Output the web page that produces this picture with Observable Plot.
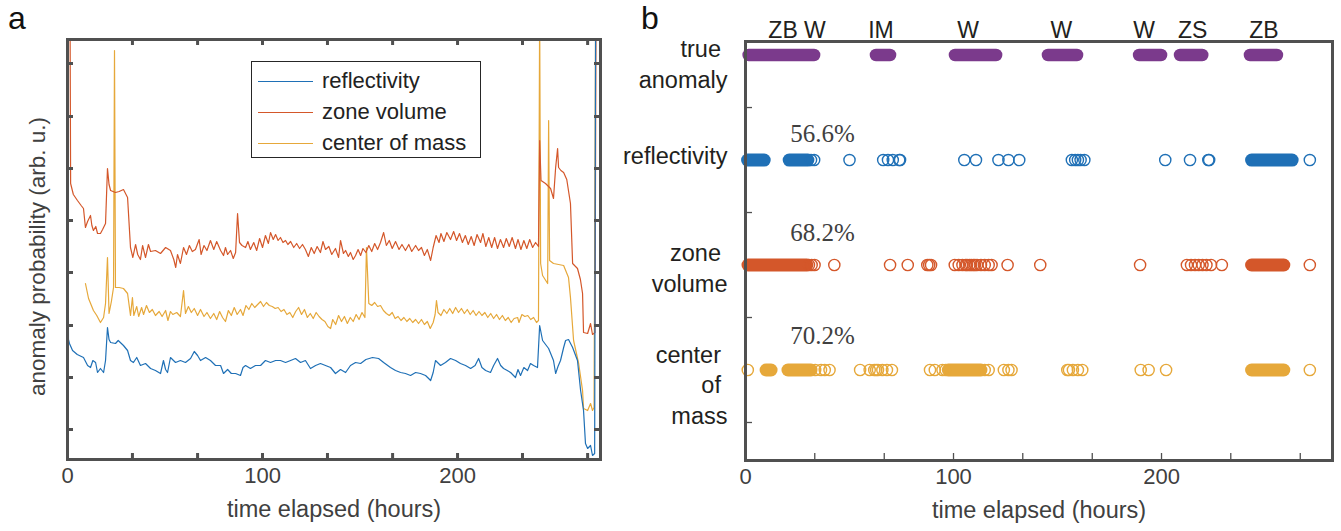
<!DOCTYPE html>
<html><head><meta charset="utf-8">
<script src="https://cdn.jsdelivr.net/npm/d3@7"></script>
<script src="https://cdn.jsdelivr.net/npm/@observablehq/plot@0.6"></script>
<style>
html,body{margin:0;padding:0;background:#fff;}
body{width:1341px;height:531px;overflow:hidden;font-family:"Liberation Sans",Arial,sans-serif;}
#wrap{position:relative;width:1341px;height:531px;}
.panel{position:absolute;top:0;}
.plabel{position:absolute;font-size:32px;color:#111;line-height:1;}
#legend{position:absolute;left:251px;top:61px;width:230px;height:97px;border:1px solid #262626;background:#fff;box-sizing:border-box;}
.lrow{position:absolute;left:0;height:0;}
.lline{position:absolute;left:6px;width:55px;height:0;border-top:1.5px solid;}
.ltext{position:absolute;left:70px;top:-13px;font-size:22px;color:#222;white-space:nowrap;line-height:26px;}
</style></head><body><div id="wrap">
<div class="plabel" style="left:8px;top:2px;">a</div>
<div class="plabel" style="left:641px;top:2px;">b</div>
<div class="panel" id="pa" style="left:0px;"></div>
<div class="panel" id="pb" style="left:605px;"></div>
<div id="legend"></div>
</div>
<script>
// ---------- DATA ----------
const seriesNames = ["reflectivity", "zone volume", "center of mass"];
const seriesColors = ["#1f70b6", "#d4572a", "#e6a83a"];
const trueColor = "#7b3a8c";

// panel a: anomaly probability (arb. u.) vs time elapsed (hours)
const reflectivityProb = [
[0,4.5],[0.5,1.2],[1.0,1.16],[2.6,1.09],[5,1.05],[8.2,1.02],[10.3,0.94],[11.8,0.92],[13,0.99],[14.4,0.97],[15.4,0.87],[16.9,0.91],[18.5,0.87],[19.5,0.99],[20.5,1.32],[21.3,1.20],[22.1,1.17],[24.6,1.16],[26,1.19],[28.7,1.14],[30.8,1.09],[32.3,0.99],[33.8,0.97],[35.5,1.02],[37.4,0.94],[40,0.96],[42.6,0.91],[45.1,0.89],[47.7,0.86],[49.2,0.99],[50.3,0.90],[51.3,0.87],[52.8,1.02],[55.4,0.97],[57.9,0.99],[60.5,0.97],[63.1,1.01],[65,1.08],[66.7,1.04],[68.2,0.99],[70.8,1.02],[73.3,0.99],[75.9,0.94],[78.5,0.94],[80,0.86],[82.1,0.90],[84,0.86],[86.2,0.86],[88.7,0.84],[90,0.92],[91.3,0.94],[93.8,0.91],[96.4,0.94],[99,0.94],[101.5,0.99],[104.1,0.97],[106.7,0.99],[109.2,0.99],[111.8,0.97],[114.4,0.99],[116.9,1.01],[119.5,0.97],[122,0.99],[124.6,0.91],[127.2,0.94],[129.7,0.96],[132.3,0.94],[134.9,0.92],[137.4,0.86],[140,0.90],[142.6,0.87],[145.1,0.94],[147.7,0.97],[150.3,0.96],[153,1.00],[156.4,1.02],[159.5,1.01],[162.1,0.97],[165.6,0.92],[168.2,0.89],[170.8,0.87],[173.3,0.86],[175.9,0.84],[178.5,0.87],[181,0.86],[183.6,0.84],[186.2,0.79],[187.5,0.87],[188.7,0.99],[191.3,0.94],[193.8,0.97],[196.4,1.01],[199,0.99],[201.5,0.96],[204.1,0.94],[206.7,0.91],[209,0.94],[210.8,1.01],[212.5,0.92],[214.4,0.89],[216.9,0.87],[218.5,0.94],[220.5,1.01],[222.1,0.94],[223.6,0.91],[225.5,0.89],[227.2,0.87],[229.7,0.82],[231,0.90],[232.3,0.84],[234,0.92],[235.9,0.89],[237.4,0.96],[239,0.94],[241,0.92],[242.1,1.34],[243.6,1.19],[246.7,1.11],[249.2,0.99],[250.3,0.86],[251.5,0.93],[252.8,0.99],[254.4,1.12],[255.4,1.19],[256.9,1.20],[259,1.12],[261.5,0.99],[263.1,0.69],[264.6,0.49],[265.6,0.16],[266.7,0.11],[268.2,0.14],[269.2,0.04],[270.3,0.06],[270.8,4.5]
];
const zoneVolumeProb = [
[0,4.5],[1.3,4.5],[1.6,2.76],[3,2.65],[5.1,2.59],[7,2.54],[8.2,2.51],[9.2,2.32],[10.3,2.38],[11.8,2.44],[12.5,2.34],[13.3,2.29],[14.5,2.33],[15.4,2.26],[16.9,2.26],[18,2.30],[19.5,2.36],[20.5,2.91],[21.3,2.75],[22.1,2.69],[24.6,2.67],[26.5,2.68],[28.7,2.70],[30.8,2.62],[32.3,2.12],[33.5,2.02],[34.9,2.15],[36,2.05],[37.4,2.00],[38.5,2.14],[40,2.02],[41.5,2.15],[42.6,2.08],[45.1,2.09],[47.7,2.06],[50.3,2.12],[52.8,2.09],[54.5,2.00],[55.5,1.92],[56.4,2.05],[57.9,1.96],[59.5,2.12],[61,2.05],[62.5,2.14],[64,2.08],[65.6,2.10],[67.5,2.20],[68.5,2.05],[70,2.14],[71.5,2.09],[73.3,2.19],[75,2.10],[76.5,2.18],[78.5,2.09],[80,2.04],[81,2.12],[82.1,2.05],[83.6,2.09],[85,2.01],[86.2,2.07],[87.2,2.46],[88.2,2.17],[89.5,2.14],[91.3,2.12],[92.5,2.18],[93.8,2.10],[95.5,2.17],[97,2.09],[98.5,2.21],[100,2.12],[101.5,2.24],[103,2.16],[104.1,2.27],[105.5,2.20],[106.7,2.25],[108,2.19],[109.2,2.22],[110.5,2.17],[111.8,2.19],[113,2.15],[114.4,2.18],[116,2.12],[117.5,2.16],[119,2.11],[120.5,2.15],[122,2.10],[123.5,2.03],[125,2.12],[126.5,2.06],[128,2.13],[129.7,2.07],[131,2.18],[132.3,2.10],[134,2.13],[135.5,2.05],[137.4,2.11],[139,2.02],[140,2.19],[141.5,2.06],[142.6,2.09],[144,2.03],[145.1,2.07],[146.5,2.00],[147.7,2.04],[149,2.10],[150.3,2.04],[151.5,2.11],[153,2.07],[154.5,2.14],[156,2.08],[157.5,2.16],[159,2.10],[160.5,2.17],[162.1,2.27],[163.5,2.14],[165,2.19],[166.5,2.11],[168.2,2.18],[170,2.10],[171.5,2.15],[173.3,2.09],[175,2.15],[176.5,2.08],[178.5,2.14],[180,2.09],[181.5,2.12],[183,2.04],[184.5,2.10],[186.2,1.99],[187.5,2.12],[189,2.24],[190.5,2.17],[191.5,2.26],[193,2.18],[194.5,2.27],[196.4,2.20],[198,2.28],[199.5,2.19],[201,2.26],[202.5,2.17],[204,2.24],[205.5,2.15],[207,2.23],[208.5,2.14],[210,2.25],[211.8,2.17],[213,2.26],[214.5,2.13],[216,2.22],[217.5,2.12],[219,2.22],[220.5,2.11],[222,2.20],[223.6,2.12],[225,2.21],[226.5,2.13],[228,2.22],[229.7,2.11],[231,2.20],[232.5,2.10],[234,2.19],[235.5,2.11],[237,2.20],[238.5,2.12],[240,2.17],[241.5,2.13],[242.1,3.19],[242.8,2.79],[245.1,2.76],[247.7,2.71],[249.2,2.61],[250.3,2.92],[251.3,3.11],[251.8,2.92],[253,2.89],[254.4,2.87],[256,2.80],[257.9,2.56],[259,1.96],[261.5,1.91],[263,1.80],[264.1,1.66],[264.6,1.27],[266.7,1.26],[268.2,1.36],[269.2,1.25],[270.5,1.27],[271,4.5]
];
const centerOfMassProb = [
[9.2,1.76],[10.8,1.61],[13.3,1.49],[15,1.44],[16.9,1.37],[18.5,1.42],[19.5,1.56],[20.5,2.02],[21.3,1.46],[22.5,1.58],[23.6,1.72],[24.1,4.09],[24.6,1.72],[26.5,1.72],[28.7,1.71],[30.8,1.66],[32.3,1.44],[33.3,1.62],[34,1.44],[35.5,1.53],[36.5,1.43],[38,1.52],[39,1.45],[40.5,1.54],[42,1.47],[43.5,1.50],[45.1,1.44],[47,1.48],[48.5,1.43],[50.3,1.49],[51.5,1.39],[52.8,1.48],[54,1.45],[56,1.47],[57.9,1.43],[59.5,1.69],[60.5,1.46],[62,1.53],[63.5,1.47],[65,1.51],[66.7,1.44],[68.2,1.50],[70,1.43],[71.5,1.47],[73.3,1.41],[75,1.46],[76.5,1.40],[78,1.48],[79.5,1.42],[81,1.38],[82.5,1.49],[84,1.44],[85.5,1.52],[87,1.45],[88.7,1.50],[90,1.44],[91.5,1.54],[93,1.50],[94.5,1.56],[96,1.52],[97.5,1.55],[99,1.58],[100.5,1.53],[102,1.57],[103.5,1.54],[105,1.53],[106.5,1.51],[108,1.52],[109.5,1.48],[111,1.50],[112.5,1.45],[114,1.47],[115.5,1.42],[117,1.48],[118.5,1.52],[120,1.45],[121.5,1.50],[123,1.42],[124.5,1.46],[126,1.41],[127.5,1.47],[129,1.43],[130.5,1.40],[132,1.38],[133.5,1.33],[134.9,1.31],[136,1.40],[137.5,1.35],[139,1.44],[140.5,1.38],[142,1.43],[143.5,1.36],[145,1.42],[146.5,1.38],[148,1.45],[149.5,1.40],[151,1.47],[152.5,1.42],[153.3,2.12],[154.5,1.56],[156,1.54],[157.5,1.57],[159,1.53],[160.5,1.54],[162,1.49],[163.5,1.46],[165,1.44],[166.5,1.47],[168,1.41],[169.5,1.43],[171,1.39],[172.5,1.42],[174,1.38],[175.5,1.41],[177,1.37],[178.5,1.40],[180,1.36],[181.5,1.40],[183,1.35],[184.5,1.38],[186,1.31],[187.5,1.37],[188.5,1.45],[189.2,1.59],[190,1.47],[191.5,1.44],[193,1.50],[194.5,1.46],[196,1.51],[197.5,1.46],[199,1.52],[200.5,1.47],[202,1.51],[203.5,1.46],[205,1.50],[206.5,1.45],[208,1.49],[209.5,1.44],[211,1.48],[212.5,1.44],[214,1.47],[215.5,1.42],[217,1.46],[218.5,1.41],[220,1.45],[221.5,1.40],[223,1.44],[224.5,1.39],[226,1.42],[227.5,1.37],[229,1.41],[230.8,1.42],[231.5,1.37],[233,1.45],[234.5,1.43],[236,1.44],[237.5,1.40],[239,1.42],[240.5,1.37],[241.5,1.39],[242.1,4.5],[242.6,1.96],[243.6,1.84],[246.2,1.76],[246.7,3.39],[247.2,1.99],[249.2,1.96],[254.4,1.94],[256.9,1.82],[257.9,1.62],[259.5,1.19],[262.1,0.96],[264.1,0.69],[264.6,0.51],[266.7,0.49],[268.2,0.56],[269.2,0.49],[270,0.52],[270.8,4.5]
];

// shared axis ticks
const xTickValues = [0, 33.3, 66.7, 100, 133.3, 166.7, 200, 233.3, 266.7];
const xTickLabels = [0, 100, 200];
const yTickValuesA = [0.30, 0.82, 1.34, 1.87, 2.39, 2.91, 3.43, 3.96];

// panel b: detections per feature
const rowNames = ["true \nanomaly", "reflectivity", "zone \nvolume", "center \nof \nmass"];
const rowLevels = [4, 3, 2, 1];
const yTickValuesB = [0.5, 1.5, 2.5, 3.5];
const eventLabels = ["ZB W", "IM", "W", "W", "W", "ZS", "ZB"];
const eventLabelHours = [24.8, 65.1, 107, 151.9, 191.6, 215, 249.2];
const trueAnomalySpans = [[1.5,33],[62.7,69.5],[100.7,120.5],[145.4,159.4],[189.2,199.8],[208.9,219.6],[242.5,255.5]];
const reflectivitySpans = [[1,9],[21,30],[243.3,262.8]];
const reflectivityHits = [31.5,33,50,66.2,68.5,70.8,73.9,74.3,105.2,110.8,121.6,126.4,131.6,156.9,158.5,159.8,161.1,162.9,201.8,213.7,222.5,222.9,271.3];
const zoneVolumeSpans = [[1.2,29.5],[243.3,258.8]];
const zoneVolumeHits = [30.5,31.8,33.2,42.7,69.5,78,87.4,88.3,89.2,100.6,102.5,104.3,105.8,106.5,107.6,108.5,109.5,110.3,111.3,113.2,115,116.9,118.3,126,141.7,189.7,212.2,214.2,216.1,217.9,219.7,221.6,223.8,229,271.3];
const centerOfMassSpans = [[9.9,12.3],[20.4,31.5],[97.5,113.2],[243.3,258.8]];
const centerOfMassHits = [1.1,33.5,36.3,38.1,40.4,55.1,59.7,61.9,62.8,63.7,65.8,68,70.4,88.7,91,94.7,96.2,115,116.9,124.2,126.4,127.9,154.7,155.5,157.4,159.8,161.9,190,193.8,202.2,271.3];
const accuracyLabels = ["56.6%", "68.2%", "70.2%"];
const accuracyLabelHour = 37;

// ---------- PANEL A ----------
const axisGray = "#505050";
const seriesData = [reflectivityProb, zoneVolumeProb, centerOfMassProb];
const plotA = Plot.plot({
  width: 605, height: 531,
  marginLeft: 67, marginRight: 5, marginTop: 39, marginBottom: 72,
  style: {fontFamily: "Liberation Sans, Arial, sans-serif", fontSize: "22px", color: "#404040", background: "transparent", overflow: "visible"},
  x: {domain: [0, 273.3], axis: null},
  y: {domain: [0, 4.2], axis: null},
  marks: [
    ...seriesData.map((s, i) => Plot.line(s, {x: d => d[0], y: d => d[1], stroke: seriesColors[i], strokeWidth: 1.2, clip: true})).reverse(),
    Plot.ruleX(xTickValues, {insetTop: 414, stroke: axisGray, strokeWidth: 3}),
    Plot.ruleX(xTickValues, {insetBottom: 414, stroke: axisGray, strokeWidth: 3}),
    Plot.ruleY(yTickValuesA, {insetRight: 527, stroke: axisGray, strokeWidth: 3}),
    Plot.ruleY(yTickValuesA, {insetLeft: 527, stroke: axisGray, strokeWidth: 3}),
    Plot.frame({stroke: axisGray, strokeWidth: 3}),
    Plot.axisX(xTickLabels, {anchor: "bottom", tickSize: 0, tickPadding: 8, fontSize: 22, label: null}),
    Plot.text(["time elapsed (hours)"], {frameAnchor: "bottom", dy: 57, fontSize: 23.5, fill: "#404040"}),
    Plot.text(["anomaly probability (arb. u.)"], {frameAnchor: "left", textAnchor: "middle", rotate: -90, dx: -30, dy: 7, fontSize: 22.5, fill: "#404040"})
  ]
});
document.getElementById("pa").appendChild(plotA);

// legend
const legend = document.getElementById("legend");
seriesNames.forEach((n, i) => {
  const row = document.createElement("div");
  row.className = "lrow";
  row.style.top = (19 + 31 * i) + "px";
  row.innerHTML = `<div class="lline" style="border-color:${seriesColors[i]}"></div><div class="ltext">${n}</div>`;
  legend.appendChild(row);
});

// ---------- PANEL B ----------
const rowDy = [7.6, -6.2, 1.9, 13.3];
const pctDy = [-26, -32.5, -34.5];
const spanMark = (spans, level, color, w) => Plot.link(spans, {x1: d => d[0], x2: d => d[1], y1: level, y2: level, stroke: color, strokeWidth: w, strokeLinecap: "round"});
const hitMark = (hits, level, color) => Plot.dot(hits, {x: d => d, y: level, r: 5.6, stroke: color, strokeWidth: 1.4, fill: "none"});
const plotB = Plot.plot({
  width: 736, height: 531,
  marginLeft: 140, marginRight: 9, marginTop: 41, marginBottom: 71,
  style: {fontFamily: "Liberation Sans, Arial, sans-serif", fontSize: "22px", color: "#404040", background: "transparent", overflow: "visible"},
  x: {domain: [0, 282.2], axis: null},
  y: {domain: [0.138, 4.129], axis: null},
  marks: [
    spanMark(trueAnomalySpans, rowLevels[0], trueColor, 12.5),
    spanMark(reflectivitySpans, rowLevels[1], seriesColors[0], 13),
    hitMark(reflectivityHits, rowLevels[1], seriesColors[0]),
    spanMark(zoneVolumeSpans, rowLevels[2], seriesColors[1], 13),
    hitMark(zoneVolumeHits, rowLevels[2], seriesColors[1]),
    spanMark(centerOfMassSpans, rowLevels[3], seriesColors[2], 13),
    hitMark(centerOfMassHits, rowLevels[3], seriesColors[2]),
    ...accuracyLabels.map((t, i) => Plot.text([t], {x: accuracyLabelHour, y: rowLevels[i + 1], dy: pctDy[i], fontFamily: "Liberation Serif, Times New Roman, serif", fontSize: 25, fill: "#404040"})),
    ...rowNames.map((t, i) => Plot.text([t], {frameAnchor: "left", y: rowLevels[i], dx: -18, dy: rowDy[i], textAnchor: "end", lineHeight: 1.3, fontSize: 23.5, fill: "#231f20"})),
    Plot.text(eventLabels, {x: eventLabelHours, frameAnchor: "top", dy: -19.5, fontSize: 23, fill: "#231f20"}),
    Plot.ruleX(xTickValues, {insetTop: 412, stroke: axisGray, strokeWidth: 1.3}),
    Plot.ruleY(yTickValuesB, {insetRight: 580, stroke: axisGray, strokeWidth: 1.3}),
    Plot.frame({stroke: axisGray, strokeWidth: 3}),
    Plot.axisX(xTickLabels, {anchor: "bottom", tickSize: 0, tickPadding: 8, fontSize: 22, label: null}),
    Plot.text(["time elapsed (hours)"], {frameAnchor: "bottom", dy: 57, fontSize: 23.5, fill: "#404040"})
  ]
});
document.getElementById("pb").appendChild(plotB);
</script>
</body></html>
